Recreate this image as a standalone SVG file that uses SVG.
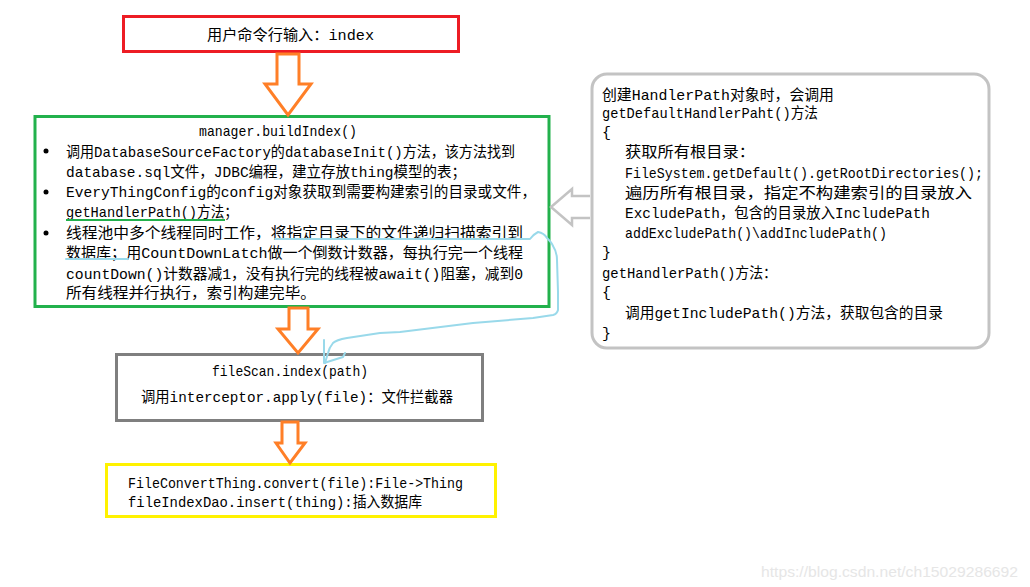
<svg xmlns="http://www.w3.org/2000/svg" width="1030" height="587" viewBox="0 0 1030 587">
<style>
.t{font-family:"Liberation Mono","Noto Sans CJK SC",monospace;font-size:15px;fill:#000}
.box{fill:#fff;stroke-width:3}
.oarrow{fill:#fff;stroke:#ff7f27;stroke-width:3;stroke-linejoin:miter}
.wm{font-family:"Liberation Sans",Arial,sans-serif;font-size:15px;fill:#e6e6e6}
</style>
<rect width="1030" height="587" fill="#fff"/>

<g id="node-input">
  <rect class="box" x="123.5" y="16.5" width="335" height="35" stroke="#ed1c24"/>
  <text class="t" x="207" y="40" textLength="167" lengthAdjust="spacingAndGlyphs" font-size="16">用户命令行输入：index</text>
</g>

<g id="node-build">
  <rect class="box" x="35" y="116.5" width="514" height="190" stroke="#22b14c"/>
  <text class="t" x="199" y="136" textLength="158" lengthAdjust="spacingAndGlyphs">manager.buildIndex()</text>
  <circle cx="46" cy="151" r="2.5" fill="#000"/>
  <circle cx="46" cy="192" r="2.5" fill="#000"/>
  <circle cx="46" cy="233" r="2.5" fill="#000"/>
  <text class="t" x="66" y="157" textLength="449" lengthAdjust="spacingAndGlyphs">调用DatabaseSourceFactory的databaseInit()方法，该方法找到</text>
  <text class="t" x="66" y="177" textLength="400" lengthAdjust="spacingAndGlyphs">database.sql文件，JDBC编程，建立存放thing模型的表；</text>
  <text class="t" x="66" y="197" textLength="470" lengthAdjust="spacingAndGlyphs">EveryThingConfig的config对象获取到需要构建索引的目录或文件，</text>
  <text class="t" x="66" y="217" textLength="172" lengthAdjust="spacingAndGlyphs">getHandlerPath()方法；</text>
  <text class="t" x="66" y="238" textLength="457" lengthAdjust="spacingAndGlyphs">线程池中多个线程同时工作，将指定目录下的文件递归扫描索引到</text>
  <text class="t" x="66" y="258" textLength="457" lengthAdjust="spacingAndGlyphs">数据库；用CountDownLatch做一个倒数计数器，每执行完一个线程</text>
  <text class="t" x="66" y="279" textLength="457" lengthAdjust="spacingAndGlyphs">countDown()计数器减1，没有执行完的线程被await()阻塞，减到0</text>
  <text class="t" x="66" y="298" textLength="250" lengthAdjust="spacingAndGlyphs">所有线程并行执行，索引构建完毕。</text>
</g>

<g id="node-handler">
  <rect class="box" x="592" y="74" width="397" height="274" rx="15" ry="15" stroke="#c3c3c3"/>
  <text class="t" x="602" y="100" textLength="232" lengthAdjust="spacingAndGlyphs">创建HandlerPath对象时，会调用</text>
  <text class="t" x="602" y="118" textLength="216" lengthAdjust="spacingAndGlyphs">getDefaultHandlerPaht()方法</text>
  <text class="t" x="602" y="137">{</text>
  <text class="t" x="625" y="157" textLength="130" lengthAdjust="spacingAndGlyphs">获取所有根目录：</text>
  <text class="t" x="625" y="178" textLength="358" lengthAdjust="spacingAndGlyphs">FileSystem.getDefault().getRootDirectories();</text>
  <text class="t" x="625" y="198" textLength="347" lengthAdjust="spacingAndGlyphs">遍历所有根目录，指定不构建索引的目录放入</text>
  <text class="t" x="625" y="218" textLength="305" lengthAdjust="spacingAndGlyphs">ExcludePath，包含的目录放入IncludePath</text>
  <text class="t" x="625" y="238" textLength="262" lengthAdjust="spacingAndGlyphs">addExcludePath()\addIncludePath()</text>
  <text class="t" x="602" y="257">}</text>
  <text class="t" x="602" y="278" textLength="175" lengthAdjust="spacingAndGlyphs">getHandlerPath()方法：</text>
  <text class="t" x="602" y="297">{</text>
  <text class="t" x="625" y="318" textLength="318" lengthAdjust="spacingAndGlyphs">调用getIncludePath()方法，获取包含的目录</text>
  <text class="t" x="602" y="338">}</text>
</g>

<g id="node-scan">
  <rect class="box" x="116.5" y="354.5" width="366" height="66" stroke="#7f7f7f"/>
  <text class="t" x="212" y="376" textLength="156" lengthAdjust="spacingAndGlyphs">fileScan.index(path)</text>
  <text class="t" x="141" y="402" textLength="312" lengthAdjust="spacingAndGlyphs">调用interceptor.apply(file)：文件拦截器</text>
</g>

<g id="node-insert">
  <rect class="box" x="106.5" y="464.5" width="389" height="52" stroke="#fff200"/>
  <text class="t" x="128" y="488" textLength="335" lengthAdjust="spacingAndGlyphs">FileConvertThing.convert(file):File-&gt;Thing</text>
  <text class="t" x="128" y="507" textLength="294" lengthAdjust="spacingAndGlyphs">fileIndexDao.insert(thing):插入数据库</text>
</g>

<g id="connectors">
  <polygon class="oarrow" points="277,54 299,54 299,84 311,84 288,115 265,84 277,84"/>
  <polygon class="oarrow" points="289,308 308,308 308,329 318,329 298,353 278,329 289,329"/>
  <polygon class="oarrow" points="282,422 298,422 298,443 305,443 290,463 276,443 282,443"/>
  <path d="M590,196 H572 V189 L551,207 L572,225 V218 H590" fill="#fff" stroke="#c3c3c3" stroke-width="2.5"/>
  <g fill="none" stroke="#99d9ea" stroke-width="2" stroke-linecap="round" stroke-linejoin="round">
    <path d="M275,239 L530,239 Q534,234 538,232 Q544,233 547,238 Q552,243 553,246 Q557,252 557,260 L558,292 L558,310 Q557,314 553,315 L533,318 L473,323 L400,332 L380,333 L347,338 Q336,340 333,343 Q329,348 328,353 L325,363"/>
    <path d="M324,340 V363 L343,357 L345,353"/>
    <path d="M66,259 H128"/>
  </g>
  <path d="M66,220 H225" stroke="#22b14c" stroke-width="2"/>
</g>

<text class="wm" x="761" y="577" textLength="257" lengthAdjust="spacingAndGlyphs">https://blog.csdn.net/ch15029286692</text>
</svg>
